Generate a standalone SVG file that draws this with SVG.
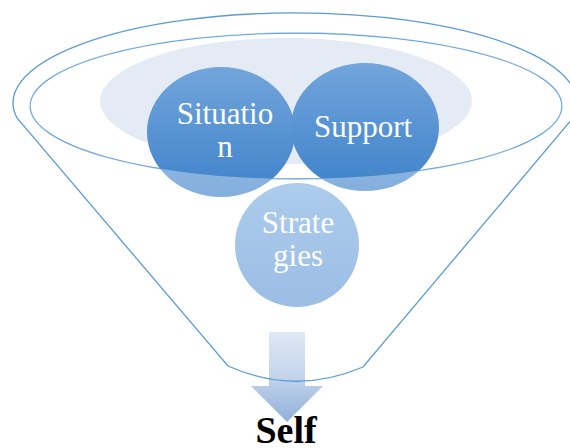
<svg xmlns="http://www.w3.org/2000/svg" width="570" height="448" viewBox="0 0 570 448">
<defs>
<linearGradient id="gDark" x1="0" y1="0" x2="0" y2="1">
<stop offset="0" stop-color="#72a5db"/>
<stop offset="1" stop-color="#3f82ca"/>
</linearGradient>
<linearGradient id="gLight" x1="0" y1="0" x2="0" y2="1">
<stop offset="0" stop-color="#7fb0e2"/>
<stop offset="1" stop-color="#6399d6"/>
</linearGradient>
<linearGradient id="gArrow" x1="0" y1="0" x2="0" y2="1">
<stop offset="0" stop-color="#dfe8f4"/>
<stop offset="0.5" stop-color="#c3d4eb"/>
<stop offset="1" stop-color="#8fb0da"/>
</linearGradient>
<style>
.line{fill:none;stroke:#5b9bd5;stroke-width:1.3}
.lbl{font-family:"Liberation Serif","Times New Roman",serif;font-size:31px;fill:#ffffff;text-anchor:middle}
.self{font-family:"Liberation Serif","Times New Roman",serif;font-size:38px;font-weight:bold;fill:#000000;text-anchor:middle}
</style>
</defs>
<g id="funnel-back">
<ellipse cx="286" cy="101" rx="186" ry="63" fill="#e4ebf5"/>
<ellipse class="line" cx="296" cy="106" rx="266" ry="73"/>
</g>
<g id="strategies">
<ellipse cx="297" cy="245" rx="62" ry="62" fill="url(#gLight)"/>
</g>
<g id="situation">
<ellipse cx="221" cy="132" rx="74" ry="65" fill="url(#gDark)"/>
</g>
<g id="support">
<ellipse cx="365" cy="127" rx="74" ry="64" fill="url(#gDark)"/>
</g>
<g id="funnel-body">
<path d="M17,118 A282,90 0 1 1 573,118 L363,367 Q295,396 228,366 Z M30,106 A266,73 0 0 0 562,106 A266,73 0 0 0 30,106 Z" fill="#ffffff" fill-opacity="0.36" fill-rule="evenodd"/>
</g>
<g id="labels">
<text class="lbl" x="225" y="124">Situatio</text>
<text class="lbl" x="225" y="157">n</text>
<text class="lbl" x="363" y="137">Support</text>
<text class="lbl" x="298" y="233">Strate</text>
<text class="lbl" x="298" y="266">gies</text>
</g>
<g id="arrow">
<path d="M269,332 L305,332 L305,386 L323,386 L287,422 L251,386 L269,386 Z" fill="url(#gArrow)"/>
</g>
<g id="connectors">
<path class="line" d="M17,118 A282,90 0 1 1 573,118 L363,367 Q295,396 228,366 Z"/>
</g>
<g id="self">
<text class="self" x="286" y="443">Self</text>
</g>
</svg>
